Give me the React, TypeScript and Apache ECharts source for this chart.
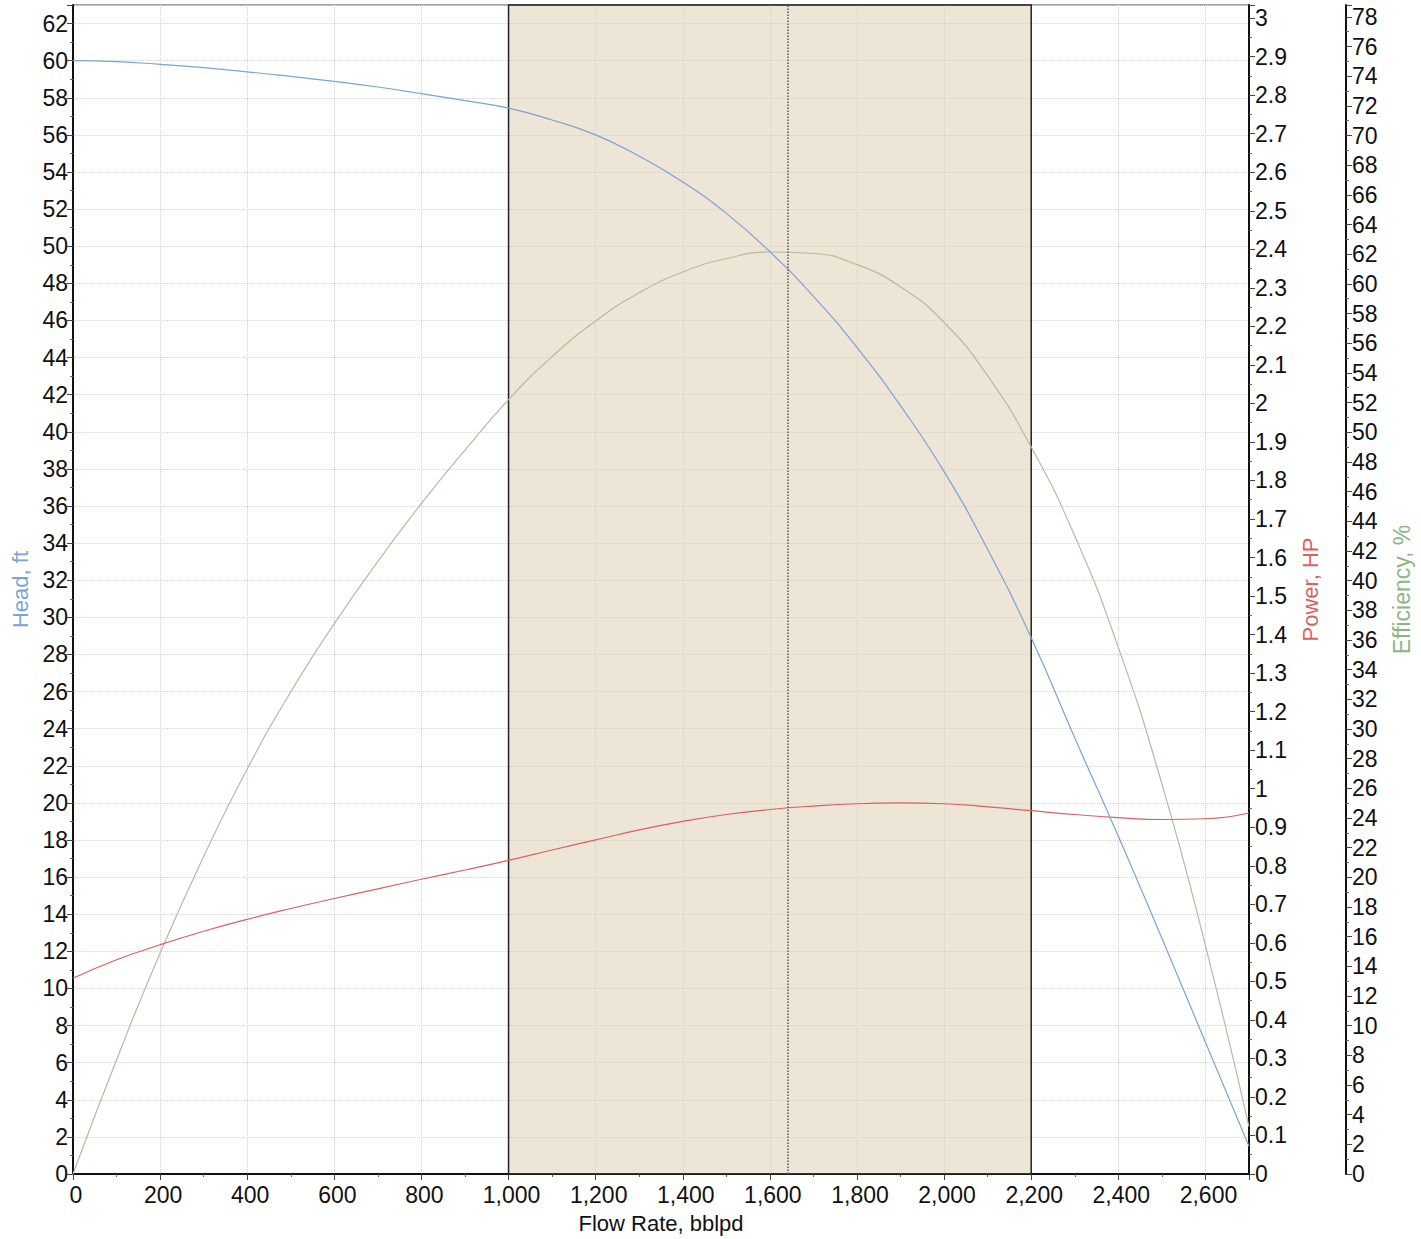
import React, { useEffect, useRef } from "react";
import * as echarts from "echarts";

const flowRates = [0, 100, 200, 300, 400, 500, 600, 700, 800, 900, 1000, 1100, 1200, 1300, 1400, 1500, 1600, 1700, 1800, 1900, 2000, 2100, 2200, 2300, 2400, 2500, 2600, 2700];
const headFt = [60.0, 59.95, 59.8, 59.62, 59.4, 59.15, 58.88, 58.58, 58.22, 57.85, 57.44, 56.8, 56.0, 54.85, 53.46, 51.77, 49.7, 47.3, 44.54, 41.4, 37.85, 33.66, 28.9, 23.5, 18.2, 12.7, 7.1, 1.5];
const powerHp = [0.508, 0.556, 0.595, 0.63, 0.661, 0.689, 0.715, 0.74, 0.765, 0.789, 0.814, 0.841, 0.867, 0.893, 0.915, 0.933, 0.946, 0.955, 0.961, 0.963, 0.961, 0.953, 0.943, 0.933, 0.925, 0.92, 0.922, 0.937];
const efficiencyPct = [0, 7.7, 14.9, 21.4, 27.3, 32.5, 37.1, 41.3, 45.2, 48.8, 52.2, 55.1, 57.5, 59.4, 60.8, 61.7, 62.15, 62.05, 61.3, 59.8, 57.4, 53.8, 49.0, 43.0, 35.5, 26.3, 15.4, 3.2];
const operatingRange = [1000, 2200];
const bepFlow = 1640;

const FONT = "Liberation Sans, Arial, sans-serif";

export default function App() {
  const ref = useRef<HTMLDivElement>(null);
  useEffect(() => {
    document.body.style.margin = "0";
    document.body.style.overflow = "hidden";
    document.documentElement.style.overflow = "hidden";
    if (!ref.current) return;
    const chart = echarts.init(ref.current, null, { renderer: "svg" });
    const zip = (ys: number[]) => flowRates.map((x, i) => [x, ys[i]]);
    const labelStyle = { color: "#111", fontSize: 23, fontFamily: FONT };
    const axisLine = { show: true, lineStyle: { color: "#111", width: 2 } };
    const axisTick = { show: true, length: 6, lineStyle: { color: "#444", width: 1 } };
    const minorTick = { show: true, splitNumber: 2, length: 3, lineStyle: { color: "#666" } };
    const gridLine = { show: true, lineStyle: { color: "#d4d4d4", type: "dotted", width: 1 } };
    chart.setOption({
      animation: false,
      backgroundColor: "#fff",
      grid: { left: 73, right: 166, top: 5, bottom: 57, show: true, borderColor: "#888", borderWidth: 1.5 },
      xAxis: {
        type: "value",
        min: 0,
        max: 2700,
        interval: 200,
        name: "Flow Rate, bblpd",
        nameLocation: "middle",
        nameGap: 38,
        nameTextStyle: { color: "#111", fontSize: 22, fontFamily: FONT },
        axisLine,
        axisTick,
        minorTick,
        axisLabel: {
          ...labelStyle,
          margin: 9,
          padding: [0, 0, 0, 6],
          showMaxLabel: false,
          formatter: (v: number) => v.toLocaleString("en-US"),
        },
        splitLine: gridLine,
      },
      yAxis: [
        {
          type: "value",
          position: "left",
          min: 0,
          max: 63,
          interval: 2,
          name: "Head, ft",
          nameLocation: "middle",
          nameGap: 41,
          nameTextStyle: { color: "#7ba3d6", fontSize: 22, fontFamily: FONT },
          axisLine,
          axisTick,
          minorTick,
          axisLabel: { ...labelStyle, margin: 5, showMaxLabel: false },
          splitLine: gridLine,
        },
        {
          type: "value",
          position: "right",
          min: 0,
          max: 3.034,
          interval: 0.1,
          name: "Power, HP",
          nameLocation: "middle",
          nameGap: 50,
          nameTextStyle: { color: "#d9625f", fontSize: 22, fontFamily: FONT },
          axisLine,
          axisTick,
          minorTick,
          axisLabel: { ...labelStyle, margin: 6, showMaxLabel: false },
          splitLine: { show: false },
        },
        {
          type: "value",
          position: "right",
          offset: 97,
          min: 0,
          max: 78.8,
          interval: 2,
          name: "Efficiency, %",
          nameLocation: "middle",
          nameGap: 44,
          nameTextStyle: { color: "#8db57f", fontSize: 23, fontFamily: FONT },
          axisLine,
          axisTick,
          minorTick,
          axisLabel: { ...labelStyle, margin: 6, showMaxLabel: false },
          splitLine: { show: false },
        },
      ],
      series: [
        {
          name: "Range",
          type: "line",
          yAxisIndex: 0,
          data: [],
          silent: true,
          markArea: {
            silent: true,
            itemStyle: { color: "rgba(219,203,173,0.5)", borderColor: "#222", borderWidth: 1.5 },
            data: [[{ xAxis: operatingRange[0], yAxis: 0 }, { xAxis: operatingRange[1], yAxis: 63 }]],
          },
          markLine: {
            silent: true,
            symbol: "none",
            label: { show: false },
            lineStyle: { color: "#555", type: "dotted", width: 1.5 },
            data: [{ xAxis: bepFlow }],
          },
        },
        {
          name: "Efficiency",
          type: "line",
          yAxisIndex: 2,
          data: zip(efficiencyPct),
          smooth: true,
          showSymbol: false,
          lineStyle: { color: "#bab9a0", width: 1.2 },
        },
        {
          name: "Power",
          type: "line",
          yAxisIndex: 1,
          data: zip(powerHp),
          smooth: true,
          showSymbol: false,
          lineStyle: { color: "#d9625f", width: 1.2 },
        },
        {
          name: "Head",
          type: "line",
          yAxisIndex: 0,
          data: zip(headFt),
          smooth: true,
          showSymbol: false,
          lineStyle: { color: "#7ba3d6", width: 1.2 },
        },
      ],
    });
    return () => chart.dispose();
  }, []);
  return <div ref={ref} style={{ width: 1421, height: 1239, overflow: "hidden" }} />;
}
